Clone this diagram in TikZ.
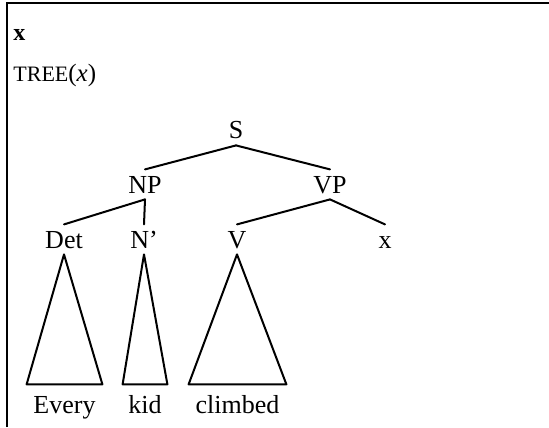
\documentclass[tikz,border=0pt]{standalone}
\usepackage{fontspec}
\setmainfont{Liberation Serif}
\begin{document}
\begin{tikzpicture}[x=0.5pt,y=-0.5pt,
  cat/.style={font=\fontsize{13}{15}\selectfont, text height=8.6pt, text depth=0pt,
              inner xsep=1pt, inner ysep=3pt, anchor=base},
  word/.style={font=\fontsize{13}{15}\selectfont, text height=8.6pt, text depth=0pt,
               inner xsep=0pt, inner ysep=5.5pt, anchor=base},
  branch/.style={line width=1pt, line cap=round, line join=round},
  frame/.style={line width=1.2pt}]
\useasboundingbox (0,0) rectangle (549,427);

% open frame: left and top rules
\draw[frame] (7,427) -- (7,3) -- (549,3);

% header lines
\node[anchor=base west, inner sep=0pt, font=\fontsize{12}{14}\selectfont\bfseries] (var) at (13,41) {x};
\node[anchor=base west, inner sep=0pt] (tree) at (13,82)
  {{\fontsize{11}{13}\selectfont TREE}{\fontsize{12.5}{14}\selectfont(\textit{x})}};

% categories
\node[cat] (S)   at (236,139) {S};
\node[cat] (NP)  at (145,193) {NP};
\node[cat] (VP)  at (330,193) {VP};
\node[cat] (Det) at (64,248)  {Det};
\node[cat] (Nb)  at (144,248) {N’};
\node[cat] (V)   at (237,248) {V};
\node[cat] (X)   at (385,248) {x};

% terminal words
\node[word, minimum width=37.5pt] (every)   at (64.5,413)  {Every};
\node[word, minimum width=22pt]   (kid)     at (145,413)   {kid};
\node[word, minimum width=48.5pt] (climbed) at (237.5,413) {climbed};

% branches
\draw[branch] (S.south) -- (NP.north);
\draw[branch] (S.south) -- (VP.north);
\draw[branch] (NP.south) -- (Det.north);
\draw[branch] (NP.south) -- (Nb.north);
\draw[branch] (VP.south) -- (V.north);
\draw[branch] (VP.south) -- (X.north);

% collapsed subtrees
\draw[branch] (Det.south) -- (every.north west) -- (every.north east) -- cycle;
\draw[branch] (Nb.south) -- (kid.north west) -- (kid.north east) -- cycle;
\draw[branch] (V.south) -- (climbed.north west) -- (climbed.north east) -- cycle;
\end{tikzpicture}
\end{document}
